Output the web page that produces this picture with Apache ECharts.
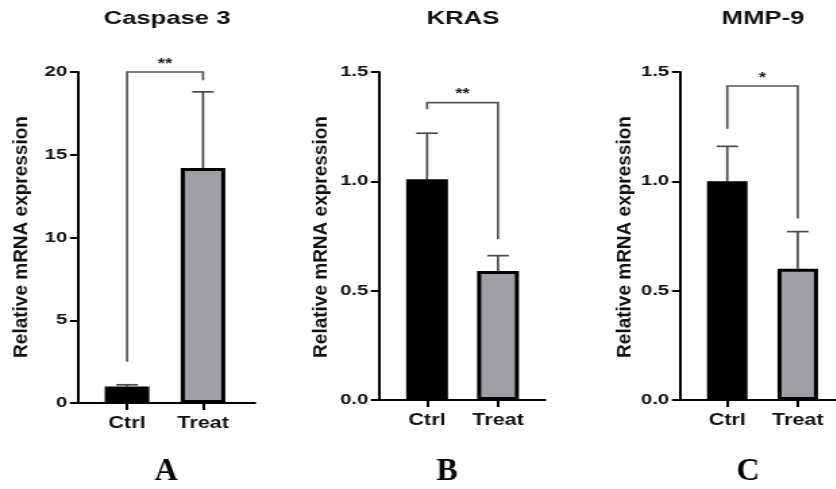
<!DOCTYPE html>
<html><head><meta charset="utf-8">
<script src="https://cdn.jsdelivr.net/npm/echarts@6/dist/echarts.min.js"></script>
<style>
html,body{margin:0;padding:0;background:#fff;overflow:hidden;width:836px;height:489px}
#c{width:620px;height:489px;transform:scaleX(1.35);transform-origin:0 0;}
</style>
</head><body><div id="c"></div><script>
// ---- data ----
const categories = ['Ctrl', 'Treat'];
const panelTitles = ['Caspase 3', 'KRAS', 'MMP-9'];
const panelLetters = ['A', 'B', 'C'];
const yAxisName = 'Relative mRNA expression';
const caspaseMean = [1.0, 14.2];
const caspaseSD = [0.1, 4.6];
const krasMean = [1.01, 0.59];
const krasSD = [0.21, 0.07];
const mmpMean = [1.0, 0.6];
const mmpSD = [0.16, 0.17];
const yMax = [20, 1.5, 1.5];
const yStep = [5, 0.5, 0.5];
const yDecimals = [0, 1, 1];
// significance brackets: [left leg end, right leg end, bracket top]
const caspaseBracket = [2.5, 19.5, 20];
const krasBracket = [1.33, 0.735, 1.36];
const mmpBracket = [1.24, 0.83, 1.436];
const sigLabels = ['**', '**', '*'];

const means = [caspaseMean, krasMean, mmpMean];
const sds = [caspaseSD, krasSD, mmpSD];
const brackets = [caspaseBracket, krasBracket, mmpBracket];

// ---- layout (inner, unstretched coordinates) ----
const S = 1.35;
const W = 620;
const grids = [
  {left: 78 / S, right: W - 255 / S, top: 72, bottom: 86},
  {left: 379 / S, right: W - 545 / S, top: 72, bottom: 89},
  {left: 680 / S, right: 0, top: 72, bottom: 89}
];
const xRange = [[0.355, 2.684], [0.323, 2.662], [0.329, 2.557]];
const barW = [33, 31, 30];
const nameX = [22, 321, 625];
const titleX = [167, 463, 763];
const letterX = [166, 447, 748];
const fills = ['#000000', '#a0a0a4'];
const FONT = '"Liberation Sans", Arial, Helvetica, sans-serif';

const chart = echarts.init(document.getElementById('c'));
const option = {
  animation: false,
  backgroundColor: '#fff',
  grid: grids,
  xAxis: [], yAxis: [], series: [],
  graphic: []
};

for (let i = 0; i < 3; i++) {
  option.xAxis.push({
    type: 'value', gridIndex: i, min: xRange[i][0], max: xRange[i][1],
    splitLine: {show: false},
    axisLine: {show: true, onZero: false, lineStyle: {color: '#000', width: 2}},
    axisTick: {show: true, length: 7, customValues: [1, 2], lineStyle: {color: '#000', width: 2}},
    axisLabel: {
      show: true, customValues: [1, 2], margin: 13,
      fontSize: 16, fontWeight: 'bold', color: '#111', fontFamily: FONT,
      formatter: v => categories[Math.round(v) - 1] || ''
    }
  });
  option.yAxis.push({
    type: 'value', gridIndex: i, min: 0, max: yMax[i], interval: yStep[i],
    splitLine: {show: false},
    axisLine: {show: true, onZero: false, lineStyle: {color: '#000', width: 2}},
    axisTick: {show: true, length: 6, lineStyle: {color: '#000', width: 2}},
    axisLabel: {
      margin: 8, fontSize: 15, fontWeight: 'bold', color: '#111', fontFamily: FONT,
      formatter: v => v.toFixed(yDecimals[i])
    }
  });
  // bars
  option.series.push({
    type: 'bar', xAxisIndex: i, yAxisIndex: i, barWidth: barW[i], z: 3,
    itemStyle: {borderColor: '#000', borderWidth: 3},
    data: means[i].map((v, j) => ({value: [j + 1, v], itemStyle: {color: fills[j]}}))
  });
  // error bars (upper only)
  option.series.push({
    type: 'custom', xAxisIndex: i, yAxisIndex: i, z: 2, clip: false,
    data: means[i].map((v, j) => [j + 1, v, v + sds[i][j]]),
    renderItem: (params, api) => {
      const p0 = api.coord([api.value(0), api.value(1)]);
      const p1 = api.coord([api.value(0), api.value(2)]);
      const cap = 8;
      const st = {stroke: '#4a4a4a', lineWidth: 1.7};
      return {type: 'group', children: [
        {type: 'line', shape: {x1: p0[0], y1: p0[1], x2: p1[0], y2: p1[1]}, style: st},
        {type: 'line', shape: {x1: p1[0] - cap, y1: p1[1], x2: p1[0] + cap, y2: p1[1]}, style: st}
      ]};
    }
  });
  // significance bracket
  option.series.push({
    type: 'custom', xAxisIndex: i, yAxisIndex: i, z: 4, clip: false,
    data: [[1, 2, brackets[i][0], brackets[i][1], brackets[i][2]]],
    renderItem: (params, api) => {
      const a = api.coord([api.value(0), api.value(2)]);
      const b = api.coord([api.value(0), api.value(4)]);
      const c = api.coord([api.value(1), api.value(4)]);
      const d = api.coord([api.value(1), api.value(3)]);
      return {type: 'group', children: [
        {type: 'polyline', shape: {points: [a, b, c, d]},
         style: {stroke: '#555', lineWidth: 1.7, fill: null}},
        {type: 'text', x: (b[0] + c[0]) / 2, y: b[1] - 1,
         style: {text: sigLabels[i], font: 'bold 14px ' + FONT, fill: '#222',
                 align: 'center', verticalAlign: 'bottom'}}
      ]};
    }
  });
  // y-axis title (rotated, thickness compensated for stretch)
  option.graphic.push({
    type: 'text', x: nameX[i] / S, y: 237, rotation: Math.PI / 2, scaleY: 0.8,
    style: {text: yAxisName, font: 'bold 19px ' + FONT, fill: '#111',
            align: 'center', verticalAlign: 'middle'}
  });
  // panel title
  option.graphic.push({
    type: 'text', x: titleX[i] / S, y: 19,
    style: {text: panelTitles[i], font: 'bold 19px ' + FONT, fill: '#111',
            align: 'center', verticalAlign: 'middle'}
  });
  // panel letter (not stretched)
  option.graphic.push({
    type: 'text', x: letterX[i] / S, y: 472, scaleX: 1 / S,
    style: {text: panelLetters[i], font: 'bold 32px "Liberation Serif", "Times New Roman", serif',
            fill: '#000', align: 'center', verticalAlign: 'middle'}
  });
}
chart.setOption(option);
</script></body></html>
